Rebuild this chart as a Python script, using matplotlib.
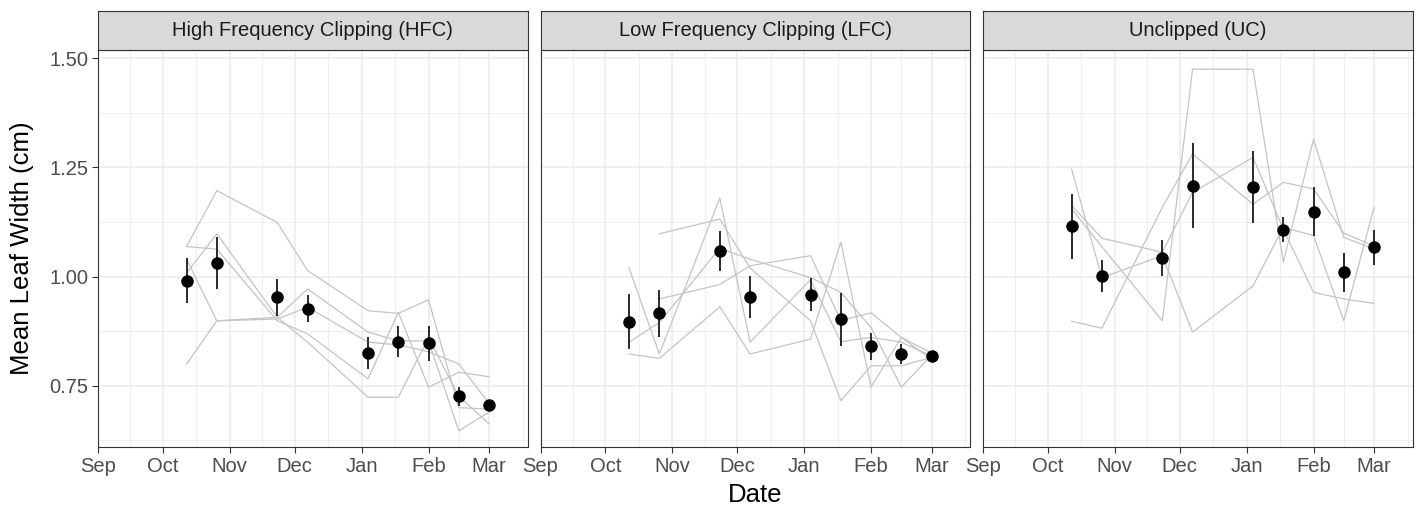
import numpy as np
import matplotlib
matplotlib.use("Agg")
import matplotlib.pyplot as plt
import matplotlib.dates as mdates
from matplotlib.ticker import FixedLocator, FormatStrFormatter

plt.rcParams['font.family'] = ['Liberation Sans', 'DejaVu Sans']

panel_titles = ["High Frequency Clipping (HFC)",
                "Low Frequency Clipping (LFC)",
                "Unclipped (UC)"]

sample_dates = np.array(["2017-10-12", "2017-10-26", "2017-11-23", "2017-12-07",
                         "2018-01-04", "2018-01-18", "2018-02-01", "2018-02-15",
                         "2018-03-01"], dtype="datetime64[D]")

# replicate lines (grey)
hfc_reps = [
    [1.069, 1.197, 1.124, 1.014, 0.922, 0.916, 0.947, 0.700, 0.697],
    [1.069, 1.063, 0.899, 0.869, 0.766, 0.918, 0.747, 0.781, 0.771],
    [1.008, 1.098, 0.907, 0.850, 0.724, 0.724, 0.860, 0.726, 0.663],
    [1.040, 0.899, 0.907, 0.972, 0.873, 0.853, 0.853, 0.647, 0.690],
    [0.800, 0.899, 0.903, 0.930, 0.850, 0.844, 0.828, 0.800, 0.710],
]
lfc_reps = [
    [1.020, 0.823, 1.180, 0.850, 0.993, 0.851, 0.861, 0.850, 0.818],
    [0.850, 0.895, 1.065, 1.040, 0.998, 0.964, 0.884, 0.747, 0.820],
    [0.823, 0.813, 0.931, 0.823, 0.857, 1.079, 0.747, 0.861, 0.825],
    [np.nan, 1.098, 1.132, 1.020, 0.899, 0.716, 0.796, 0.796, 0.815],
    [np.nan, 0.949, 0.982, 1.025, 1.048, 0.900, 0.917, 0.861, 0.810],
]
uc_reps = [
    [1.246, 0.998, 1.048, 0.873, 0.979, 1.113, 1.094, 0.899, 1.159],
    [1.163, 1.088, 1.056, 1.193, 1.273, 1.109, 0.964, 0.949, 0.939],
    [1.155, 1.069, 0.899, 1.475, 1.475, 1.033, 1.315, 1.090, 1.063],
    [0.898, 0.882, 1.159, 1.281, 1.166, 1.216, 1.201, 1.100, 1.070],
]

# means and standard errors (black points)
hfc_mean = [0.991, 1.031, 0.953, 0.927, 0.825, 0.851, 0.847, 0.726, 0.706]
hfc_se = [0.052, 0.060, 0.042, 0.030, 0.036, 0.035, 0.040, 0.021, 0.008]
lfc_mean = [0.897, 0.916, 1.058, 0.953, 0.959, 0.902, 0.841, 0.823, 0.818]
lfc_se = [0.063, 0.053, 0.046, 0.048, 0.037, 0.060, 0.031, 0.023, 0.008]
uc_mean = [1.115, 1.001, 1.043, 1.208, 1.206, 1.108, 1.149, 1.010, 1.067]
uc_se = [0.075, 0.037, 0.042, 0.097, 0.082, 0.028, 0.056, 0.044, 0.040]

y_ticks = [0.75, 1.00, 1.25, 1.50]
y_minor = [0.625, 0.875, 1.125, 1.375]

all_reps = [hfc_reps, lfc_reps, uc_reps]
all_mean = [hfc_mean, lfc_mean, uc_mean]
all_se = [hfc_se, lfc_se, uc_se]

W, H = 1418, 511
fig = plt.figure(figsize=(W / 100, H / 100), dpi=100)

lefts = [98, 540.5, 983]
pw = 429.5
p_top, p_bot = 50, 447
s_top = 10.7

x0 = mdates.date2num(np.datetime64("2017-09-01"))
x1 = x0 + 198.8
months = [np.datetime64(m) for m in ["2017-09-01", "2017-10-01", "2017-11-01", "2017-12-01",
                                      "2018-01-01", "2018-02-01", "2018-03-01", "2018-04-01"]]
month_num = mdates.date2num(months)
month_mid = (month_num[:-1] + month_num[1:]) / 2

dnum = mdates.date2num(sample_dates)
tick_col = '#4D4D4D'
border = '#333333'

for i in range(3):
    ax = fig.add_axes([lefts[i] / W, 1 - p_bot / H, pw / W, (p_bot - p_top) / H])
    ax.set_axisbelow(True)
    for rep in all_reps[i]:
        ax.plot(dnum, rep, color='#C4C4C4', lw=0.9, zorder=2)
    m = np.array(all_mean[i])
    se = np.array(all_se[i])
    ax.vlines(dnum, m - se, m + se, color='#1A1A1A', lw=1.3, zorder=3)
    ax.plot(dnum, m, 'o', ms=8, color='black', mec='black', zorder=4)

    ax.set_xlim(x0, x1)
    ax.set_ylim(0.610, 1.519)
    ax.xaxis.set_major_locator(FixedLocator(month_num[:-1]))
    ax.xaxis.set_major_formatter(mdates.DateFormatter('%b'))
    ax.xaxis.set_minor_locator(FixedLocator(month_mid))
    ax.yaxis.set_major_locator(FixedLocator(y_ticks))
    ax.yaxis.set_minor_locator(FixedLocator(y_minor))
    ax.yaxis.set_major_formatter(FormatStrFormatter('%.2f'))
    ax.grid(which='major', color='#EBEBEB', lw=1.1)
    ax.grid(which='minor', color='#EBEBEB', lw=0.6)
    ax.tick_params(which='minor', length=0)
    ax.tick_params(which='major', length=4, width=0.8, color=border,
                   labelcolor=tick_col, labelsize=14.5, pad=3)
    if i > 0:
        ax.tick_params(axis='y', which='both', left=False, labelleft=False)
    for sp in ax.spines.values():
        sp.set_color(border)
        sp.set_linewidth(0.8)

    sax = fig.add_axes([lefts[i] / W, 1 - p_top / H, pw / W, (p_top - s_top) / H])
    sax.set_facecolor('#D9D9D9')
    sax.set_xticks([])
    sax.set_yticks([])
    for sp in sax.spines.values():
        sp.set_color(border)
        sp.set_linewidth(0.8)
    sax.text(0.5, 0.5, panel_titles[i], ha='center', va='center',
             fontsize=14.5, color='#1A1A1A', transform=sax.transAxes)

fig.text(755 / W, 1 - 495 / H, "Date", ha='center', va='center', fontsize=18.5)
fig.text(22 / W, 1 - 248 / H, "Mean Leaf Width (cm)", ha='center', va='center',
         rotation=90, fontsize=18.5)

fig.savefig("out.png", dpi=100)
